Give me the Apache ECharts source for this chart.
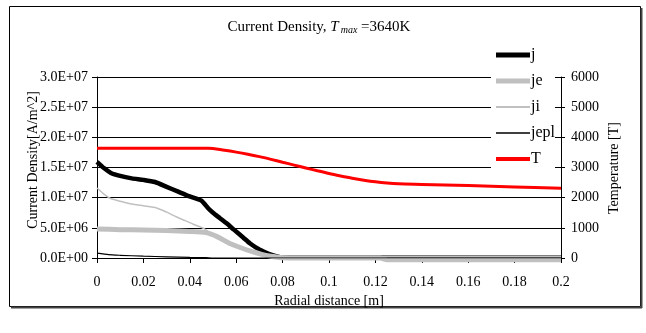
<!DOCTYPE html>
<html>
<head>
<meta charset="utf-8">
<script src="https://cdn.jsdelivr.net/npm/echarts@6/dist/echarts.min.js"></script>
<style>
html,body{margin:0;padding:0;background:#fff;}
#c{width:646px;height:333px;}
</style>
</head>
<body>
<div id="c"></div>
<script>
// ---- data ----
var seriesNames = ['j', 'je', 'ji', 'jepl', 'T'];
var xTicks = ['0', '0.02', '0.04', '0.06', '0.08', '0.1', '0.12', '0.14', '0.16', '0.18', '0.2'];
var leftTicks = ['0.0E+00', '5.0E+06', '1.0E+07', '1.5E+07', '2.0E+07', '2.5E+07', '3.0E+07'];
var rightTicks = ['0', '1000', '2000', '3000', '4000', '5000', '6000'];

var jX = [0, 0.003, 0.006, 0.01, 0.015, 0.02, 0.025, 0.03, 0.035, 0.04, 0.045, 0.048, 0.05, 0.053, 0.056, 0.059, 0.063, 0.066, 0.07, 0.074, 0.078, 0.08, 0.1, 0.12, 0.14, 0.16, 0.18, 0.2];
var jY = [1.595e7, 1.49e7, 1.41e7, 1.36e7, 1.32e7, 1.295e7, 1.26e7, 1.18e7, 1.1e7, 1.02e7, 0.95e7, 0.82e7, 0.75e7, 0.66e7, 0.57e7, 0.47e7, 0.34e7, 0.24e7, 0.14e7, 0.07e7, 0.02e7, 0.01e7, 0.01e7, 0.01e7, 0.01e7, 0.01e7, 0.01e7, 0.01e7];

var jeX = [0, 0.01, 0.02, 0.03, 0.04, 0.047, 0.052, 0.057, 0.062, 0.067, 0.071, 0.075, 0.08, 0.1, 0.122, 0.125, 0.15, 0.2];
var jeY = [0.48e7, 0.47e7, 0.465e7, 0.455e7, 0.44e7, 0.42e7, 0.35e7, 0.245e7, 0.17e7, 0.105e7, 0.06e7, 0.03e7, 0.005e7, 0, 0, -0.03e7, -0.03e7, -0.03e7];

var jiX = [0, 0.003, 0.0056, 0.01, 0.0142, 0.02, 0.0257, 0.03, 0.0343, 0.038, 0.0415, 0.046, 0.05, 0.057, 0.067, 0.075, 0.08, 0.1, 0.12, 0.14, 0.16, 0.18, 0.2];
var jiY = [1.16e7, 1.06e7, 0.99e7, 0.94e7, 0.9e7, 0.865e7, 0.83e7, 0.76e7, 0.68e7, 0.62e7, 0.56e7, 0.49e7, 0.38e7, 0.25e7, 0.11e7, 0.04e7, 0.03e7, 0.03e7, 0.03e7, 0.03e7, 0.03e7, 0.03e7, 0.03e7];

var jeplX = [0, 0.005, 0.01, 0.02, 0.03, 0.04, 0.047, 0.05, 0.1, 0.15, 0.2];
var jeplY = [0.08e7, 0.055e7, 0.045e7, 0.03e7, 0.02e7, 0.01e7, 0.005e7, 0, 0, 0, 0];

var tX = [0, 0.048, 0.055, 0.06, 0.065, 0.07, 0.075, 0.08, 0.085, 0.09, 0.095, 0.1, 0.105, 0.11, 0.115, 0.12, 0.125, 0.13, 0.14, 0.16, 0.18, 0.2];
var tY = [3640, 3640, 3570, 3510, 3440, 3360, 3270, 3175, 3080, 2985, 2890, 2800, 2720, 2645, 2580, 2525, 2485, 2460, 2440, 2400, 2355, 2310];

function pairs(xs, ys) { return xs.map(function (x, i) { return [x, ys[i]]; }); }

// legend bar icon of given thickness inside a 34x14 box
function barIcon(t) {
  var a = 7 - t / 2, b = 7 + t / 2;
  return 'path://M0,0h0.01v0.01h-0.01z M0,' + a + 'H34V' + b + 'H0z M33.99,13.99h0.01v0.01h-0.01z';
}

var serif = '"Liberation Serif", "DejaVu Serif", serif';
var chart = echarts.init(document.getElementById('c'), null, {renderer: 'canvas'});

var option = {
  animation: false,
  backgroundColor: '#fff',
  textStyle: {fontFamily: serif, color: '#000'},
  grid: {left: 97, right: 85, top: 77, bottom: 75, containLabel: false},
  legend: {
    orient: 'vertical',
    left: 491, top: 42,
    padding: [5, 0, 5, 5],
    backgroundColor: '#fff',
    itemWidth: 34, itemHeight: 14, itemGap: 10,
    data: [
      {name: 'j', icon: barIcon(5), itemStyle: {color: '#000'}},
      {name: 'je', icon: barIcon(5), itemStyle: {color: '#c0c0c0'}},
      {name: 'ji', icon: barIcon(2), itemStyle: {color: '#c0c0c0'}},
      {name: 'jepl', icon: barIcon(1.5), itemStyle: {color: '#000'}},
      {name: 'T', icon: barIcon(4), itemStyle: {color: '#ff0000'}}
    ],
    textStyle: {fontFamily: serif, fontSize: 16, color: '#000', padding: [0, 0, 0, -4]}
  },
  xAxis: {
    type: 'value', min: 0, max: 0.2, interval: 0.02,
    name: 'Radial distance [m]', nameLocation: 'middle', nameGap: 36,
    nameTextStyle: {fontFamily: serif, fontSize: 14, color: '#000'},
    axisLine: {show: true, onZero: false, lineStyle: {color: '#000', width: 1}},
    axisTick: {show: true, length: 5, lineStyle: {color: '#000'}},
    axisLabel: {fontFamily: serif, fontSize: 14, color: '#000', margin: 17,
      formatter: function (v, i) { return xTicks[i]; }},
    splitLine: {show: false}
  },
  yAxis: [
    {
      type: 'value', min: 0, max: 3e7, interval: 5e6, position: 'left',
      axisLine: {show: true, lineStyle: {color: '#000', width: 1}},
      axisTick: {show: true, length: 5, lineStyle: {color: '#000'}},
      axisLabel: {fontFamily: serif, fontSize: 14, color: '#000', margin: 9,
        formatter: function (v, i) { return leftTicks[i]; }},
      splitLine: {show: true, lineStyle: {color: '#000', width: 1}}
    },
    {
      type: 'value', min: 0, max: 6000, interval: 1000, position: 'right',
      axisLine: {show: true, lineStyle: {color: '#000', width: 1}},
      axisTick: {show: true, length: 4, lineStyle: {color: '#000'}},
      axisLabel: {fontFamily: serif, fontSize: 14, color: '#000', margin: 10,
        formatter: function (v, i) { return rightTicks[i]; }},
      splitLine: {show: false}
    },
    {
      type: 'value', min: 0, max: 6000, interval: 1000, position: 'right',
      axisLine: {show: false},
      axisTick: {show: true, inside: true, length: 4, lineStyle: {color: '#000'}},
      axisLabel: {show: false},
      splitLine: {show: false}
    }
  ],
  series: [
    {name: 'j', type: 'line', yAxisIndex: 0, symbol: 'none', smooth: 0.2, z: 2,
      lineStyle: {color: '#000', width: 4.5}, itemStyle: {color: '#000'}, data: pairs(jX, jY)},
    {name: 'je', type: 'line', yAxisIndex: 0, symbol: 'none', smooth: 0.2, clip: false, z: 3,
      lineStyle: {color: '#c0c0c0', width: 5}, itemStyle: {color: '#c0c0c0'}, data: pairs(jeX, jeY)},
    {name: 'ji', type: 'line', yAxisIndex: 0, symbol: 'none', smooth: 0.2, z: 4,
      lineStyle: {color: '#c0c0c0', width: 1.5}, itemStyle: {color: '#c0c0c0'}, data: pairs(jiX, jiY)},
    {name: 'jepl', type: 'line', yAxisIndex: 0, symbol: 'none', smooth: 0.2, z: 5,
      lineStyle: {color: '#000', width: 1.2}, itemStyle: {color: '#000'}, data: pairs(jeplX, jeplY)},
    {name: 'T', type: 'line', yAxisIndex: 1, symbol: 'none', smooth: 0.3, z: 6,
      lineStyle: {color: '#ff0000', width: 3}, itemStyle: {color: '#ff0000'}, data: pairs(tX, tY)}
  ],
  graphic: [
    {type: 'rect', z: -10, silent: true, shape: {x: 9.5, y: 6.5, width: 631, height: 300},
      style: {fill: 'none', stroke: '#000', lineWidth: 1}},
    {type: 'line', z: -10, silent: true, shape: {x1: 641.5, y1: 8, x2: 641.5, y2: 308}, style: {stroke: '#444', lineWidth: 2}},
    {type: 'line', z: -10, silent: true, shape: {x1: 11, y1: 307.5, x2: 642, y2: 307.5}, style: {stroke: '#444', lineWidth: 2}},
    {type: 'text', silent: true, x: 319, y: 27,
      style: {
        text: '{a|Current Density, }{b|T}{c|max}{a| =3640K}',
        align: 'center', verticalAlign: 'middle',
        rich: {
          a: {fontFamily: serif, fontSize: 15, fill: '#000'},
          b: {fontFamily: serif, fontSize: 15, fontStyle: 'italic', fill: '#000'},
          c: {fontFamily: serif, fontSize: 10, fontStyle: 'italic', fill: '#000', padding: [7, 0, 0, 2]}
        }
      }},
    {type: 'text', silent: true, x: 33, y: 160, rotation: Math.PI / 2,
      style: {text: 'Current Density[A/m^2]', fontFamily: serif, fontSize: 14, fill: '#000', align: 'center', verticalAlign: 'middle'}},
    {type: 'text', silent: true, x: 614, y: 168, rotation: Math.PI / 2,
      style: {text: 'Temperature [T]', fontFamily: serif, fontSize: 14, fill: '#000', align: 'center', verticalAlign: 'middle'}}
  ]
};
chart.setOption(option);
</script>
</body>
</html>
